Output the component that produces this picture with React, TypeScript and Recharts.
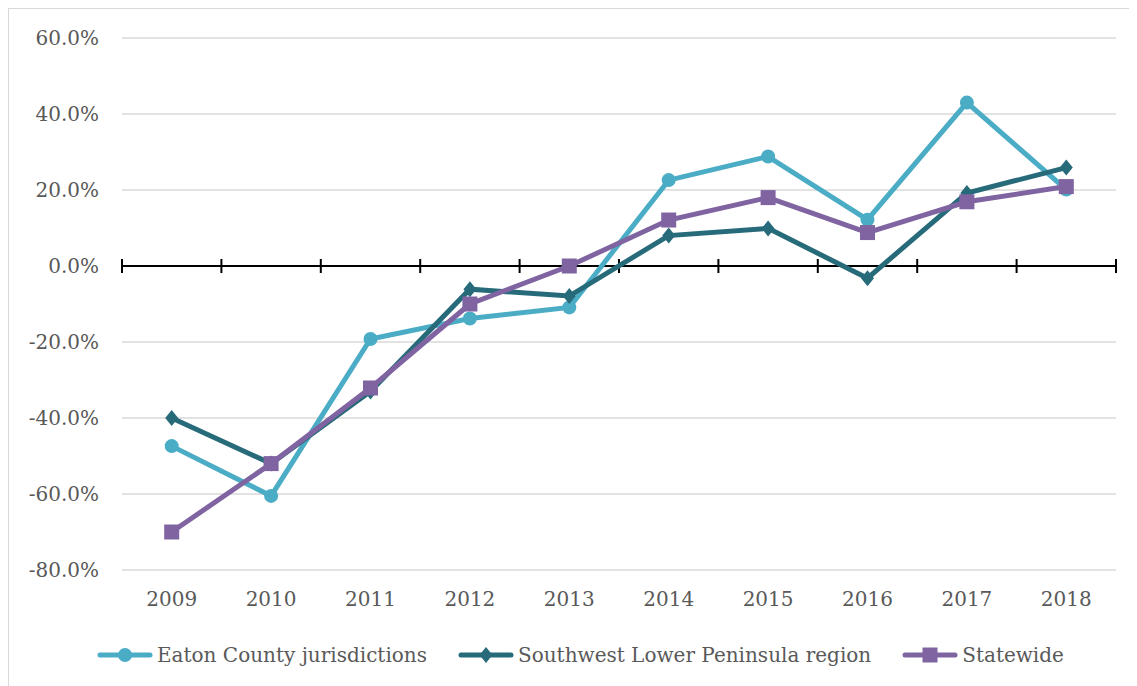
import React from 'react';
import { LineChart, Line, XAxis, YAxis, CartesianGrid, ReferenceLine, Legend } from 'recharts';

const years = ['2009', '2010', '2011', '2012', '2013', '2014', '2015', '2016', '2017', '2018'];
const eaton = [-47.4, -60.5, -19.2, -13.8, -10.9, 22.6, 28.8, 12.2, 43.0, 20.1];
const southwest = [-40.0, -52.0, -33.0, -6.1, -7.9, 8.0, 9.9, -3.2, 19.2, 25.9];
const statewide = [-70.0, -52.0, -32.1, -10.0, 0.0, 12.1, 18.0, 8.8, 16.9, 20.9];
const yTicks = [-80, -60, -40, -20, 0, 20, 40, 60];

const seriesNames = ['Eaton County jurisdictions', 'Southwest Lower Peninsula region', 'Statewide'];
const colors = ['#4BACC6', '#276B7B', '#8064A2'];

const data = years.map((y, i) => ({ year: y, eaton: eaton[i], southwest: southwest[i], statewide: statewide[i] }));

const FONT = '"DejaVu Serif", serif';
const TEXT = '#595959';

const CircleDot = (props: any) => {
  const { cx, cy } = props;
  if (cx == null || cy == null) return null;
  return <circle cx={cx} cy={cy} r={7} fill={colors[0]} stroke="none" />;
};
const DiamondDot = (props: any) => {
  const { cx, cy } = props;
  if (cx == null || cy == null) return null;
  return <path d={`M${cx},${cy - 8}L${cx + 6.5},${cy}L${cx},${cy + 8}L${cx - 6.5},${cy}Z`} fill={colors[1]} />;
};
const SquareDot = (props: any) => {
  const { cx, cy } = props;
  if (cx == null || cy == null) return null;
  return <rect x={cx - 7.5} y={cy - 7.5} width={15} height={15} fill={colors[2]} />;
};

const ZeroAxis = (props: any) => {
  const { x1, x2, y1 } = props;
  if (x1 == null) return null;
  const n = years.length;
  const bw = (x2 - x1) / n;
  const ticks = [];
  for (let i = 0; i <= n; i++) {
    const x = x1 + i * bw;
    ticks.push(<line key={i} x1={x} x2={x} y1={y1 - 7} y2={y1 + 7} stroke="#000" strokeWidth={2} />);
  }
  return (
    <g>
      <line x1={x1} x2={x2} y1={y1} y2={y1} stroke="#000" strokeWidth={2} />
      {ticks}
    </g>
  );
};

const LegendIcon = ({ idx }: { idx: number }) => {
  const c = colors[idx];
  return (
    <svg width={56} height={20} style={{ display: 'block' }}>
      <line x1={3} x2={53} y1={10} y2={10} stroke={c} strokeWidth={5} strokeLinecap="round" />
      {idx === 0 && <circle cx={28} cy={10} r={7} fill={c} />}
      {idx === 1 && <path d="M28,2L34.5,10L28,18L21.5,10Z" fill={c} />}
      {idx === 2 && <rect x={20.5} y={2.5} width={15} height={15} fill={c} />}
    </svg>
  );
};

const LegendContent = () => (
  <div
    style={{
      height: 67,
      boxSizing: 'border-box',
      paddingTop: 24,
      paddingLeft: 88,
      display: 'flex',
      alignItems: 'flex-start',
      fontFamily: FONT,
      fontSize: 20,
      color: TEXT,
      whiteSpace: 'nowrap',
    }}
  >
    {seriesNames.map((name, i) => (
      <div key={name} style={{ display: 'flex', alignItems: 'center', marginRight: 31, height: 22 }}>
        <LegendIcon idx={i} />
        <span style={{ marginLeft: 4, lineHeight: '22px' }}>{name}</span>
      </div>
    ))}
  </div>
);

export default function App() {
  return (
    <div style={{ width: 1140, height: 700, border: '1px solid #d9d9d9', boxSizing: 'border-box', background: '#fff' }}>
      <LineChart width={1128} height={678} data={data} margin={{ top: 29, right: 21, left: 0, bottom: 0 }}>
        <CartesianGrid horizontal vertical={false} stroke="#d9d9d9" strokeWidth={1.5} />
        <XAxis
          dataKey="year"
          padding={{ left: 49.7, right: 49.7 }}
          axisLine={false}
          tickLine={false}
          tickSize={0}
          tickMargin={22}
          height={50}
          interval={0}
          tick={{ fill: TEXT, fontSize: 20, fontFamily: FONT }}
        />
        <YAxis
          domain={[-80, 60]}
          ticks={yTicks}
          width={113}
          axisLine={false}
          tickLine={false}
          tickSize={0}
          tickMargin={23}
          interval={0}
          tickFormatter={(v: number) => v.toFixed(1) + '%'}
          tick={{ fill: TEXT, fontSize: 20, fontFamily: FONT }}
        />
        <ReferenceLine y={0} shape={<ZeroAxis />} />
        <Line dataKey="eaton" stroke={colors[0]} strokeWidth={5} dot={<CircleDot />} activeDot={false} isAnimationActive={false} />
        <Line dataKey="southwest" stroke={colors[1]} strokeWidth={5} dot={<DiamondDot />} activeDot={false} isAnimationActive={false} />
        <Line dataKey="statewide" stroke={colors[2]} strokeWidth={5} dot={<SquareDot />} activeDot={false} isAnimationActive={false} />
        <Legend verticalAlign="bottom" content={<LegendContent />} />
      </LineChart>
    </div>
  );
}
